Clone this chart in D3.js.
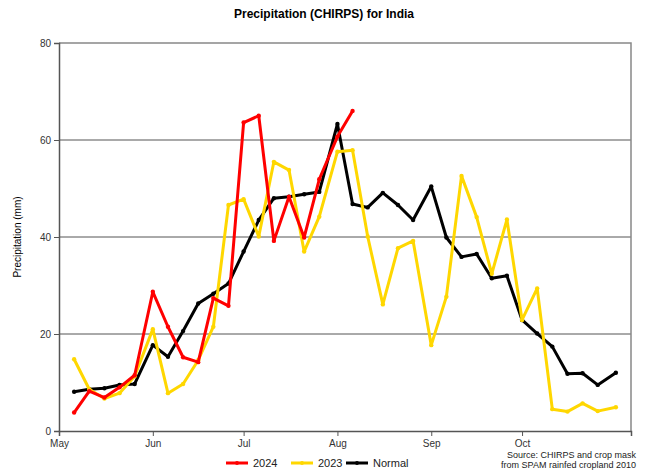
<!DOCTYPE html>
<html>
<head>
<meta charset="utf-8">
<script src="https://cdn.jsdelivr.net/npm/d3@7"></script>
<style>
  body { margin: 0; background: #fff; }
  svg { font-family: "Liberation Sans", Arial, sans-serif; }
</style>
</head>
<body>
<script>
// dimensions
const width = 649;
const height = 473;
const margin = { top: 43, right: 18, bottom: 42, left: 59 };

// pentad end dates (May 6 -> Nov 1)
const months = [4, 5, 6, 7, 8, 9];
const dates = [];
months.forEach(m => {
  [6, 11, 16, 21, 26].forEach(d => dates.push(new Date(2024, m, d)));
  dates.push(new Date(2024, m + 1, 1));
});

const normal = [8.1, 8.6, 8.8, 9.5, 9.7, 17.7, 15.3, 20.6, 26.3, 28.3, 30.4, 37,
  43.5, 48, 48.3, 48.8, 49.3, 63.3, 46.8, 46.1, 49.1, 46.6, 43.5, 50.4,
  39.9, 35.9, 36.5, 31.5, 32, 22.9, 20.1, 17.4, 11.8, 11.9, 9.5, 12];
const y2023 = [14.8, 8.6, 6.7, 7.8, 11.3, 21, 7.8, 9.7, 14.6, 21.5, 46.6, 47.8,
  40.1, 55.5, 53.8, 37, 44.2, 57.6, 57.9, 40.1, 26.1, 37.7, 39.2, 17.7,
  27.7, 52.6, 44.1, 32.4, 43.6, 22.9, 29.4, 4.5, 4, 5.7, 4.1, 4.9];
const y2024 = [3.8, 8.2, 6.9, 9, 11.5, 28.7, 21.5, 15.2, 14.2, 27.4, 25.8, 63.6,
  65, 39.2, 48.3, 39.9, 51.9, 60.7, 66];

const yTicks = [0, 20, 40, 60, 80];
const monthTicks = ['May', 'Jun', 'Jul', 'Aug', 'Sep', 'Oct'];

const series = [
  { name: '2024', values: y2024, color: '#ff0000' },
  { name: '2023', values: y2023, color: '#ffd700' },
  { name: 'Normal', values: normal, color: '#000000' }
];

const svg = d3.select('body').append('svg')
  .attr('width', width)
  .attr('height', height);

const x = d3.scaleTime()
  .domain([new Date(2024, 4, 1), new Date(2024, 10, 6)])
  .range([margin.left, width - margin.right]);

const y = d3.scaleLinear()
  .domain([0, 80])
  .range([height - margin.bottom, margin.top]);

// title
svg.append('text')
  .attr('x', 324).attr('y', 18)
  .attr('text-anchor', 'middle')
  .style('font-size', '12px').style('font-weight', 'bold')
  .text('Precipitation (CHIRPS) for India');

// grid
svg.append('g')
  .selectAll('line')
  .data(yTicks.filter(d => d > 0 && d < 80))
  .enter().append('line')
  .attr('x1', margin.left).attr('x2', width - margin.right)
  .attr('y1', d => y(d)).attr('y2', d => y(d))
  .attr('stroke', '#555').attr('stroke-width', 1);

// frame top + right
svg.append('path')
  .attr('d', `M${margin.left},${y(80)}H${width - margin.right}V${y(0)}`)
  .attr('fill', 'none').attr('stroke', '#888').attr('stroke-width', 1.5);

// y axis
svg.append('g')
  .attr('transform', `translate(${margin.left},0)`)
  .call(d3.axisLeft(y).tickValues(yTicks).tickSize(5).tickPadding(3))
  .call(g => g.select('.domain').attr('stroke', '#555').attr('stroke-width', 1.5))
  .call(g => g.selectAll('.tick line').attr('stroke', '#555'))
  .call(g => g.selectAll('text').style('font-size', '10px').attr('fill', '#333').style('font-family', 'Liberation Sans, Arial, sans-serif'));

// x axis
svg.append('g')
  .attr('transform', `translate(0,${y(0)})`)
  .call(d3.axisBottom(x)
    .tickValues(months.map(m => new Date(2024, m, 1)))
    .tickFormat((d, i) => monthTicks[i])
    .tickSize(5).tickPadding(4))
  .call(g => g.select('.domain').attr('stroke', '#555').attr('stroke-width', 1.5))
  .call(g => g.selectAll('.tick line').attr('stroke', '#555'))
  .call(g => g.selectAll('text').style('font-size', '10px').attr('fill', '#333').style('font-family', 'Liberation Sans, Arial, sans-serif'));

// y label
svg.append('text')
  .attr('transform', `translate(21,${(y(0) + y(80)) / 2}) rotate(-90)`)
  .attr('text-anchor', 'middle')
  .style('font-size', '10px')
  .text('Precipitation (mm)');

// lines
const line = d3.line()
  .x((d, i) => x(dates[i]))
  .y(d => y(d));

// draw normal first then 2023 then 2024 on top
const order = [series[2], series[1], series[0]];
order.forEach(s => {
  svg.append('path')
    .datum(s.values)
    .attr('fill', 'none')
    .attr('stroke', s.color)
    .attr('stroke-width', 3)
    .attr('stroke-linejoin', 'round')
    .attr('d', line);
  svg.append('g')
    .selectAll('circle')
    .data(s.values)
    .enter().append('circle')
    .attr('cx', (d, i) => x(dates[i]))
    .attr('cy', d => y(d))
    .attr('r', 2.2)
    .attr('fill', s.color);
});

// legend
const legend = svg.append('g').attr('transform', 'translate(226,463)');
const legX = [0, 65, 120];
series.forEach((s, i) => {
  const g = legend.append('g').attr('transform', `translate(${legX[i]},0)`);
  g.append('line')
    .attr('x1', 0).attr('x2', 22)
    .attr('stroke', s.color).attr('stroke-width', 3);
  g.append('circle').attr('cx', 11).attr('r', 2).attr('fill', s.color);
  g.append('text')
    .attr('x', 27).attr('dy', '0.35em')
    .style('font-size', '11px')
    .attr('fill', '#222')
    .text(s.name);
});

// source note
const src = svg.append('text')
  .attr('text-anchor', 'end')
  .style('font-size', '9px')
  .attr('fill', '#222');
src.append('tspan').attr('x', 636).attr('y', 458).text('Source: CHIRPS and crop mask');
src.append('tspan').attr('x', 636).attr('y', 468).text('from SPAM rainfed cropland 2010');
</script>
</body>
</html>
